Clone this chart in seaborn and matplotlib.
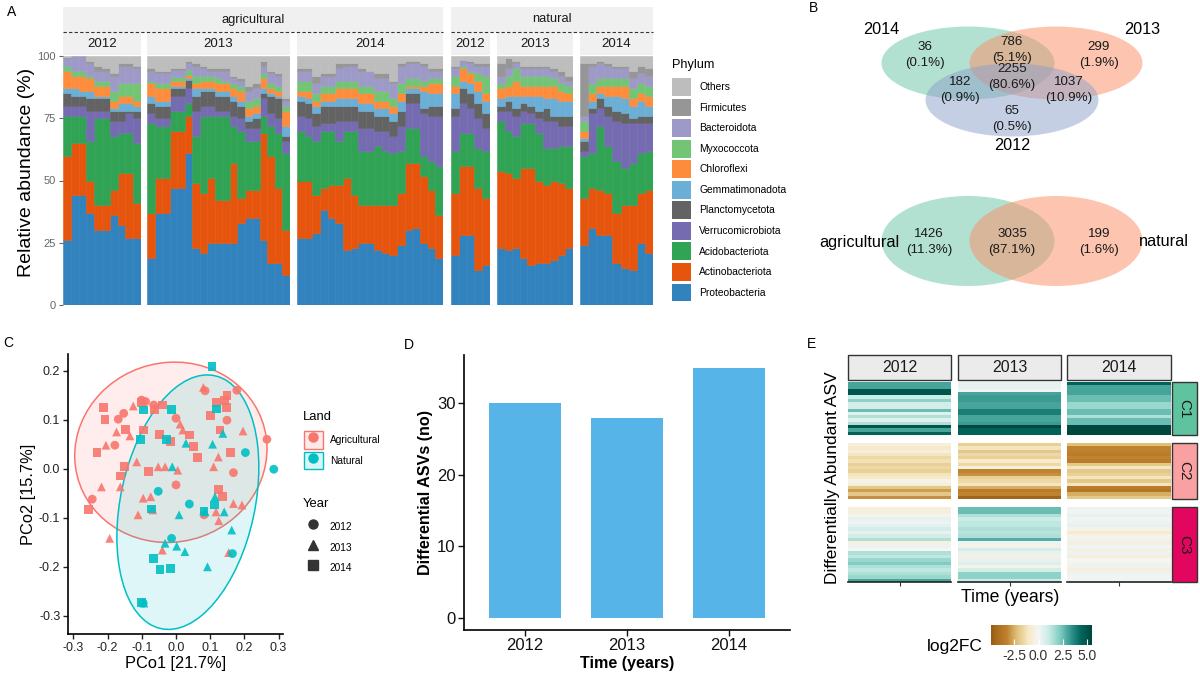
import numpy as np
import pandas as pd
import seaborn as sns
import matplotlib.pyplot as plt
from matplotlib.patches import Ellipse, Patch, Rectangle
from matplotlib.lines import Line2D
from matplotlib.legend_handler import HandlerTuple
from matplotlib.colors import LinearSegmentedColormap, to_rgba
from matplotlib.ticker import FormatStrFormatter

plt.rcParams["font.family"] = ["Liberation Sans", "DejaVu Sans"]
plt.rcParams["axes.unicode_minus"] = False

# ---------------- A: relative abundance per sample ----------------
facet_land = ["agricultural", "agricultural", "agricultural", "natural", "natural", "natural"]
facet_year = ["2012", "2013", "2014", "2012", "2013", "2014"]
facet_sizes = [10, 19, 19, 5, 10, 9]

proteobacteria = [26, 44, 44, 37, 30, 30, 36, 32, 27, 27,
                  19, 37, 37, 47, 47, 61, 23, 21, 25, 25, 25, 25, 33, 35, 35, 26, 17, 17, 12,
                  27, 27, 29, 38, 35, 33, 22, 23, 25, 25, 22, 21, 20, 24, 30, 31, 25, 23, 19,
                  20, 28, 28, 14, 16,
                  23, 22, 23, 19, 16, 17, 17, 18, 20, 23,
                  24, 31, 28, 28, 17, 15, 14, 25, 21]
actinobacteriota = [34, 21, 21, 13, 10, 10, 10, 21, 26, 14,
                    18, 14, 14, 23, 23, 15, 26, 24, 26, 17, 17, 32, 10, 11, 11, 43, 43, 30, 18,
                    23, 23, 15, 9, 13, 15, 29, 21, 15, 15, 18, 19, 20, 21, 27, 26, 27, 23, 17,
                    25, 28, 28, 33, 27,
                    31, 31, 28, 36, 39, 33, 31, 32, 29, 24,
                    19, 16, 18, 17, 20, 25, 26, 20, 25]
acidobacteriota = [16, 11, 11, 16, 35, 35, 22, 16, 16, 24,
                   36, 21, 21, 8, 8, 5, 19, 31, 25, 34, 34, 15, 27, 20, 20, 7, 12, 22, 31,
                   20, 18, 22, 23, 22, 18, 19, 26, 22, 22, 24, 22, 21, 17, 14, 14, 8, 12, 20,
                   17, 13, 13, 16, 19,
                   20, 17, 17, 18, 18, 19, 15, 13, 15, 17,
                   17, 14, 26, 19, 21, 15, 17, 16, 16]
verrucomicrobiota = [4, 4, 4, 12, 3, 3, 6, 5, 8, 10,
                     4, 3, 3, 6, 6, 6, 10, 4, 4, 2, 2, 4, 5, 5, 5, 7, 5, 6, 5,
                     6, 7, 6, 3, 3, 8, 4, 4, 9, 9, 6, 8, 7, 10, 10, 10, 17, 18, 20,
                     14, 12, 10, 12, 9,
                     4, 8, 8, 5, 4, 6, 11, 11, 8, 8,
                     2, 16, 7, 12, 16, 18, 16, 12, 11]
planctomycetota = [5, 4, 4, 5, 5, 5, 4, 4, 1, 3,
                   4, 5, 5, 3, 3, 3.5, 6, 6, 6, 6, 6, 6, 5, 3, 4, 2, 7, 8, 2,
                   6, 6, 5, 7, 7, 6, 6, 6, 7, 7, 6, 6, 6, 6, 4, 4, 2, 4, 4,
                   3, 6, 6, 6, 6,
                   2, 4, 3, 3, 3, 3, 5, 2, 4, 4,
                   4, 2, 4, 4, 4, 4, 2, 3, 3]
gemmatimonadota = [2, 3, 2, 3, 1, 1, 1, 3, 3, 2,
                   3, 2, 2, 1, 1, 0.5, 3, 1, 1, 2, 2, 2, 2, 2, 2, 2, 1, 1, 4,
                   2, 2, 3, 2, 2, 3, 3, 3, 3, 3, 3, 3, 3, 4, 2, 2, 7, 5, 5,
                   6, 3, 4, 5, 5,
                   3, 2, 5, 3, 4, 6, 4, 7, 6, 6,
                   1, 3, 2, 4, 6, 6, 5, 6, 4]
chloroflexi = [7, 5, 6, 5, 4, 4, 3, 3, 3, 2,
               5, 5, 5, 2, 2, 1.5, 2, 3, 3, 3, 3, 3, 4, 3, 3, 4, 2, 2, 6,
               2, 3, 2, 3, 3, 4, 4, 4, 4, 4, 3, 3, 3, 3, 1, 1, 2, 4, 4,
               3, 5, 4, 4, 3,
               4, 4, 6, 4, 4, 4, 5, 5, 4, 3,
               3, 3, 3, 4, 4, 5, 3, 3, 4]
myxococcota = [2, 2, 2, 1, 2, 2, 4, 5, 5, 7,
               1, 2, 2, 1.5, 1.5, 2, 3, 2, 2, 2, 1, 2, 2, 3, 3, 2, 2, 2, 2,
               4, 4, 3, 3, 3, 3, 3, 3, 3, 3, 4, 4, 3, 4, 3, 3, 2, 2, 2,
               4, 1, 1, 3, 7,
               2, 4, 5, 4, 4, 4, 4, 3, 3, 3,
               4, 4, 3, 3, 3, 3, 4, 4, 4]
bacteroidota = [3, 6, 6, 5, 4, 4, 6, 7, 7, 6,
                4, 4, 4, 3, 3, 2.5, 4, 3, 2, 3, 4, 2, 2, 4, 4, 3, 4, 4, 2,
                4, 4, 4, 4, 4, 5, 6, 6, 6, 6, 5, 5, 6, 7, 6, 6, 6, 3, 3,
                3, 2, 3, 3, 4,
                3, 3, 2, 3, 3, 3, 3, 3, 3, 2,
                2, 7, 6, 5, 4, 4, 4, 4, 4]
firmicutes = [0.5, 0, 0, 1, 2, 1, 1, 1, 1, 1,
              1, 1, 1, 0.5, 0.5, 1, 1, 1, 1, 1, 1, 1, 1, 2, 2, 2, 1, 1, 1,
              1, 1, 3, 1, 1, 2, 1, 1, 1, 0, 2, 2, 1, 1, 1, 1, 1, 1, 1,
              1, 0.5, 1, 1, 1,
              5, 4, 1, 1, 1, 1, 1, 1, 2, 2,
              21, 1, 1, 1, 1, 1, 3, 3, 3]

phyla = ["Proteobacteria", "Actinobacteriota", "Acidobacteriota", "Verrucomicrobiota",
         "Planctomycetota", "Gemmatimonadota", "Chloroflexi", "Myxococcota",
         "Bacteroidota", "Firmicutes", "Others"]
phylum_colors = ["#3182BD", "#E6550D", "#31A354", "#756BB1", "#636363", "#6BAED6",
                 "#FD8D3C", "#74C476", "#9E9AC8", "#969696", "#BDBDBD"]

# ---------------- B: shared ASVs ----------------
venn_years = ["2014", "2013", "2012"]
# 2014 only, 2014&2013, 2013 only, all, 2014&2012, 2013&2012, 2012 only
venn_year_counts = [36, 786, 299, 2255, 182, 1037, 65]
venn_year_pcts = ["0.1", "5.1", "1.9", "80.6", "0.9", "10.9", "0.5"]
venn_lands = ["agricultural", "natural"]
venn_land_counts = [1426, 3035, 199]
venn_land_pcts = ["11.3", "87.1", "1.6"]
venn_colors = ["#66C2A5", "#FC8D62", "#8DA0CB"]

# ---------------- C: PCoA ----------------
agri_2012_pc1 = [0.178, 0.266, 0.085, -0.089, -0.101, -0.153, -0.169, -0.179, -0.245, 0.000,
                 0.000, 0.149, 0.168, 0.082, -0.065]
agri_2012_pc2 = [0.160, 0.060, 0.159, 0.137, 0.140, 0.113, 0.101, 0.048, -0.062, 0.103,
                 -0.033, 0.099, -0.008, -0.094, 0.130]
agri_2013_pc1 = [0.080, -0.125, -0.174, -0.135, -0.205, -0.115, -0.218, -0.163, -0.052, -0.032,
                 0.005, 0.012, 0.020, -0.096, -0.074, -0.068, -0.111, -0.194, -0.040, 0.110,
                 0.124, 0.117, 0.125, 0.168, 0.193, 0.196, 0.154]
agri_2013_pc2 = [0.166, 0.128, 0.075, 0.067, 0.048, 0.014, -0.037, -0.037, 0.004, 0.004,
                 -0.003, 0.091, 0.079, -0.060, -0.057, -0.084, -0.094, -0.142, -0.166, 0.004,
                 0.024, -0.088, -0.106, -0.071, -0.074, 0.077, -0.171]
agri_2014_pc1 = [-0.211, -0.208, -0.231, -0.257, -0.147, -0.150, -0.163, -0.094, -0.081, -0.064,
                 -0.039, -0.049, -0.015, 0.039, 0.051, 0.063, 0.102, 0.117, 0.141, 0.147,
                 0.149, 0.159, 0.124, 0.137, 0.129, -0.102]
agri_2014_pc2 = [0.125, 0.101, 0.033, -0.083, 0.080, 0.005, -0.015, 0.079, -0.006, 0.121,
                 0.130, 0.070, 0.055, 0.069, 0.045, 0.023, 0.109, 0.135, 0.139, 0.125,
                 0.150, 0.033, -0.042, -0.057, 0.079, 0.135]
nat_2012_pc1 = [0.203, 0.286, -0.052, 0.039, -0.013, 0.165, -0.096]
nat_2012_pc2 = [0.033, -0.001, -0.046, -0.072, -0.142, -0.173, -0.274]
nat_2013_pc1 = [0.137, 0.107, 0.029, -0.011, 0.009, -0.032, 0.002, 0.026, 0.092, 0.114,
                0.141, 0.163, 0.085, -0.094]
nat_2013_pc2 = [0.072, 0.050, 0.052, 0.004, -0.094, -0.152, -0.158, -0.169, -0.200, -0.057,
                -0.088, -0.125, -0.088, -0.274]
nat_2014_pc1 = [0.105, -0.096, -0.013, 0.119, -0.104, -0.027, -0.071, 0.082, 0.113, -0.065,
                -0.047, -0.016, -0.102]
nat_2014_pc2 = [0.208, 0.120, 0.121, 0.122, 0.060, 0.060, -0.082, -0.086, -0.074, -0.183,
                -0.205, -0.204, -0.273]
land_colors = {"Agricultural": "#F8766D", "Natural": "#00BFC4"}
year_markers = {"2012": "o", "2013": "^", "2014": "s"}

# ---------------- D: differential ASVs ----------------
d_years = ["2012", "2013", "2014"]
d_counts = [30, 28, 35]

# ---------------- E: log2 fold change heatmap ----------------
e_years = ["2012", "2013", "2014"]
clusters = ["C1", "C2", "C3"]
cluster_colors = ["#5FC3A0", "#F9A0A2", "#E3065E"]
c1_2012 = [3.0, 3.0, 5.0, 5.0, 1.0, 2.0, 0.8, 0.8, 2.5, 0.5, 1.5, 0.5, 1.5, 5.0, 3.0, 4.5]
c1_2013 = [0.3, 0.3, 0.1, 3.0, 3.2, 3.2, 3.0, 3.0, 3.8, 3.8, 3.0, 3.0, 3.2, 5.5, 4.5, 4.5]
c1_2014 = [4.5, 3.0, 3.0, 3.0, 2.5, 2.5, 1.8, 1.8, 2.5, 2.5, 1.5, 2.5, 2.5, 5.5, 5.5, 5.5]
c2_2012 = [-0.5, -1.0, -0.5, -1.2, -1.5, -1.3, -1.8, -1.5, -1.8, -1.2, -1.0, -0.3, -0.6,
           -2.0, -2.8, -2.0, -3.0]
c2_2013 = [-1.8, -1.2, -2.0, -1.5, -1.8, -1.0, -1.5, -0.5, -3.2, -3.0, -1.8, -1.5, -1.2,
           -2.5, -3.5, -3.2, -4.5]
c2_2014 = [-2.2, -3.2, -3.3, -3.5, -3.2, -3.5, -2.0, -1.2, -2.0, -1.8, -1.2, -2.0, -1.2,
           -3.5, -3.8, -2.5, -2.0]
c3_2012 = [-0.5, -0.5, -0.2, 0.3, 0.2, 0.4, 0.8, 0.3, 0.8, 1.5, -0.4, 0.2, 0.0, 1.5, 1.2,
           1.8, 2.2, 1.5, 1.2, 1.5, 1.8, 3.0]
c3_2013 = [2.5, 2.5, 1.5, 1.0, 1.2, 1.2, 1.5, 1.3, 1.5, 2.8, 0.2, -0.3, 0.8, 0.3, -0.4,
           0.3, 0.6, -0.3, 0.8, 2.0, 2.0, 1.0]
c3_2014 = [0.2, 0.1, 0.3, 0.1, 0.2, 0.3, -0.3, -0.8, -0.3, 0.2, -0.5, 0.1, -0.4, 0.2, -0.6,
           0.0, -0.3, 0.2, -0.5, 0.2, 0.1, 0.1]

W, H = 1200, 675


def box(x0, y0, x1, y1):
    return [x0 / W, 1 - y1 / H, (x1 - x0) / W, (y1 - y0) / H]


fig = plt.figure(figsize=(12, 6.75), dpi=100)
ov = fig.add_axes([0, 0, 1, 1])
ov.set_xlim(0, W)
ov.set_ylim(H, 0)
ov.axis("off")

for letter, (lx, ly) in zip("ABCDE", [(12, 12), (814, 8), (8, 343), (409, 345), (812, 344)]):
    ov.text(lx, ly, letter, fontsize=10, ha="center", va="center")

# ---------------- panel A ----------------
abund = pd.DataFrame(dict(zip(phyla[:-1], [proteobacteria, actinobacteriota, acidobacteriota,
                                            verrucomicrobiota, planctomycetota, gemmatimonadota,
                                            chloroflexi, myxococcota, bacteroidota, firmicutes])))
abund["Others"] = 100 - abund.sum(axis=1)
abund["facet"] = np.repeat(np.arange(len(facet_sizes)), facet_sizes)

facet_px = [(63, 141), (147, 290), (297, 443), (451, 490), (497, 573), (580, 653)]
for i, (x0, x1) in enumerate(facet_px):
    ax = fig.add_axes(box(x0, 56, x1, 305))
    sub = abund[abund["facet"] == i]
    xs = np.arange(len(sub))
    bottom = np.zeros(len(sub))
    for ph, col in zip(phyla, phylum_colors):
        ax.bar(xs, sub[ph].values, bottom=bottom, width=1.0, color=col, edgecolor=col, linewidth=0.4)
        bottom += sub[ph].values
    ax.set_xlim(-0.5, len(sub) - 0.5)
    ax.set_ylim(0, 100)
    ax.set_xticks([])
    for s in ax.spines.values():
        s.set_visible(False)
    if i == 0:
        ax.set_yticks([0, 25, 50, 75, 100])
        ax.tick_params(axis="y", labelsize=8, colors="#666666", length=3, pad=2)
    else:
        ax.set_yticks([])
    ov.add_patch(Rectangle((x0, 32), x1 - x0, 23, facecolor="#F0F0F0", edgecolor="none"))
    ov.text((x0 + x1) / 2, 44, facet_year[i], fontsize=9.5, color="#1A1A1A", ha="center", va="center")

for name, (gx0, gx1) in zip(["agricultural", "natural"], [(63, 443), (451, 653)]):
    ov.add_patch(Rectangle((gx0, 7), gx1 - gx0, 24.5, facecolor="#F0F0F0", edgecolor="none"))
    ov.plot([gx0, gx1], [31.5, 31.5], color="#333333", lw=0.8, ls=(0, (3, 2)))
    ov.text((gx0 + gx1) / 2, 19.5, name, fontsize=9.3, color="#1A1A1A", ha="center", va="center")

ov.text(27, 172, "Relative abundance (%)", rotation=90, fontsize=14, ha="center", va="center")

ov.text(672, 65, "Phylum", fontsize=9.1, ha="left", va="center")
fig.legend(handles=[Patch(facecolor=c, edgecolor="none") for c in phylum_colors[::-1]],
           labels=phyla[::-1], loc="upper left", bbox_to_anchor=(672 / W, 1 - 78 / H),
           frameon=False, fontsize=7.4, handlelength=1.85, handleheight=2.3, labelspacing=0.26,
           handletextpad=0.8, borderaxespad=0, borderpad=0)

# ---------------- panel B ----------------
for (cx, cy), col in zip([(968, 63), (1056, 63), (1012, 100)], venn_colors):
    ov.add_patch(Ellipse((cx, cy), 173, 73, facecolor=col, alpha=0.5, edgecolor="none"))
for name, (tx, ty) in zip(venn_years, [(881, 29), (1142, 29), (1012, 145)]):
    ov.text(tx, ty, name, fontsize=11.7, ha="center", va="center")
year_spots = [(925, 55), (1012, 50), (1099, 55), (1012, 77), (960, 90), (1069, 90), (1012, 119)]
for (tx, ty), n, p in zip(year_spots, venn_year_counts, venn_year_pcts):
    ov.text(tx, ty, f"{n}\n({p}%)", fontsize=9.6, ha="center", va="center", linespacing=1.45,
            color="#1A1A1A")

for (cx, cy), col in zip([(968, 241), (1056, 241)], venn_colors[:2]):
    ov.add_patch(Ellipse((cx, cy), 173, 90, facecolor=col, alpha=0.5, edgecolor="none"))
ov.text(900, 242, venn_lands[0], fontsize=11.7, ha="right", va="center")
ov.text(1139, 242, venn_lands[1], fontsize=11.7, ha="left", va="center")
for (tx, ty), n, p in zip([(929, 242), (1012, 242), (1099, 242)], venn_land_counts, venn_land_pcts):
    ov.text(tx, ty, f"{n}\n({p}%)", fontsize=9.6, ha="center", va="center", linespacing=1.45,
            color="#1A1A1A")

# ---------------- panel C ----------------
groups = [("Agricultural", "2012", agri_2012_pc1, agri_2012_pc2),
          ("Agricultural", "2013", agri_2013_pc1, agri_2013_pc2),
          ("Agricultural", "2014", agri_2014_pc1, agri_2014_pc2),
          ("Natural", "2012", nat_2012_pc1, nat_2012_pc2),
          ("Natural", "2013", nat_2013_pc1, nat_2013_pc2),
          ("Natural", "2014", nat_2014_pc1, nat_2014_pc2)]
pcoa = pd.concat([pd.DataFrame({"PCo1": xs, "PCo2": ys, "Land": land, "Year": yr})
                  for land, yr, xs, ys in groups], ignore_index=True)

ax_c = fig.add_axes(box(68, 354, 283, 634))
for land, col in land_colors.items():
    pts = pcoa.loc[pcoa["Land"] == land, ["PCo1", "PCo2"]].values
    mu = pts.mean(axis=0)
    vals, vecs = np.linalg.eigh(np.cov(pts, rowvar=False))
    order = vals.argsort()[::-1]
    vals, vecs = vals[order], vecs[:, order]
    angle = np.degrees(np.arctan2(vecs[1, 0], vecs[0, 0]))
    ax_c.add_patch(Ellipse(mu, 2 * 2.05 * np.sqrt(vals[0]), 2 * 2.1 * np.sqrt(vals[1]), angle=angle,
                           facecolor=to_rgba(col, 0.13), edgecolor=col, lw=1.1, zorder=1))
sns.scatterplot(data=pcoa, x="PCo1", y="PCo2", hue="Land", style="Year", palette=land_colors,
                markers=year_markers, s=40, linewidth=0, alpha=0.9, legend=False, ax=ax_c, zorder=3)
ax_c.set_xlim(-0.316, 0.313)
ax_c.set_ylim(-0.337, 0.234)
ax_c.set_xticks([-0.3, -0.2, -0.1, 0.0, 0.1, 0.2, 0.3])
ax_c.set_yticks([-0.3, -0.2, -0.1, 0.0, 0.1, 0.2])
ax_c.xaxis.set_major_formatter(FormatStrFormatter("%.1f"))
ax_c.yaxis.set_major_formatter(FormatStrFormatter("%.1f"))
ax_c.tick_params(labelsize=9, length=3.5, width=1, colors="#222222", pad=2)
for s in ["top", "right"]:
    ax_c.spines[s].set_visible(False)
for s in ["left", "bottom"]:
    ax_c.spines[s].set_linewidth(1.2)
    ax_c.spines[s].set_color("black")
ax_c.set_xlabel("PCo1 [21.7%]", fontsize=11.8, labelpad=2)
ax_c.set_ylabel("PCo2 [15.7%]", fontsize=11.8, labelpad=2)

ov.text(303, 417, "Land", fontsize=9.4, ha="left", va="center")
land_handles = [(Rectangle((0, 0), 1, 1, facecolor=to_rgba(c, 0.15), edgecolor=c, lw=1),
                 Line2D([], [], marker="o", color=c, ls="", markersize=6.5))
                for c in land_colors.values()]
leg_land = ax_c.legend(handles=land_handles, labels=list(land_colors),
                       handler_map={tuple: HandlerTuple(ndivide=1)}, loc="upper left",
                       bbox_to_anchor=(304 / W, 1 - 431 / H), bbox_transform=fig.transFigure,
                       frameon=False, fontsize=7.3, handlelength=1.85, handleheight=2.3,
                       labelspacing=0.3, handletextpad=0.7, borderpad=0, borderaxespad=0)
ax_c.add_artist(leg_land)
ov.text(303, 504, "Year", fontsize=9.4, ha="left", va="center")
year_handles = [Line2D([], [], marker=m, color="#333333", ls="", markersize=6.5)
                for m in year_markers.values()]
ax_c.legend(handles=year_handles, labels=list(year_markers), loc="upper left",
            bbox_to_anchor=(304 / W, 1 - 518 / H), bbox_transform=fig.transFigure,
            frameon=False, fontsize=7.3, handlelength=1.85, handleheight=2.3, labelspacing=0.3,
            handletextpad=0.7, borderpad=0, borderaxespad=0)

# ---------------- panel D ----------------
ax_d = fig.add_axes(box(464, 355, 790, 630))
sns.barplot(x=d_years, y=d_counts, color="#56B4E9", saturation=1, width=0.71, ax=ax_d)
ax_d.set_xlim(-0.6, 2.6)
ax_d.set_ylim(-1.75, 36.75)
ax_d.set_yticks([0, 10, 20, 30])
ax_d.tick_params(labelsize=12, length=4, width=1, colors="#111111", pad=2)
for s in ["top", "right"]:
    ax_d.spines[s].set_visible(False)
for s in ["left", "bottom"]:
    ax_d.spines[s].set_linewidth(1.2)
    ax_d.spines[s].set_color("black")
ax_d.set_xlabel("Time (years)", fontsize=11.6, fontweight="bold", labelpad=2)
ax_d.set_ylabel("Differential ASVs (no)", fontsize=11.6, fontweight="bold", labelpad=3)

# ---------------- panel E ----------------
heat = {("C1", "2012"): c1_2012, ("C1", "2013"): c1_2013, ("C1", "2014"): c1_2014,
        ("C2", "2012"): c2_2012, ("C2", "2013"): c2_2013, ("C2", "2014"): c2_2014,
        ("C3", "2012"): c3_2012, ("C3", "2013"): c3_2013, ("C3", "2014"): c3_2014}
fc_cmap = LinearSegmentedColormap.from_list(
    "fc", ["#7f4a0c", "#a86a1c", "#bf812d", "#dfc27d", "#f6e8c3", "#f5f5f5",
           "#c7eae5", "#80cdc1", "#35978f", "#01665e", "#00473e"])
col_px = [(848, 951), (958, 1061), (1067, 1171)]
row_px = [(382, 435), (443, 499), (507, 582)]
cax = fig.add_axes(box(991, 625, 1092, 645))
for r, cl in enumerate(clusters):
    for c, yr in enumerate(e_years):
        ax = fig.add_axes(box(col_px[c][0], row_px[r][0], col_px[c][1], row_px[r][1]))
        first = (r == 0 and c == 0)
        sns.heatmap(np.array(heat[(cl, yr)]).reshape(-1, 1), ax=ax, cmap=fc_cmap, center=0,
                    vmin=-4.9, vmax=5.5, xticklabels=False, yticklabels=False, cbar=first,
                    cbar_ax=cax if first else None,
                    cbar_kws={"orientation": "horizontal", "ticks": [-2.5, 0, 2.5, 5]} if first else None)
        if r == len(clusters) - 1:
            ax.spines["bottom"].set_visible(True)
            ax.spines["bottom"].set_color("#222222")
            ax.spines["bottom"].set_linewidth(1.2)
            ax.set_xticks([0.5])
            ax.tick_params(axis="x", bottom=True, labelbottom=False, length=3, color="#333333")
for c, yr in enumerate(e_years):
    x0, x1 = col_px[c]
    ov.add_patch(Rectangle((x0, 355), x1 - x0, 25, facecolor="#EBEBEB", edgecolor="#333333", lw=1))
    ov.text((x0 + x1) / 2, 367.5, yr, fontsize=11.4, ha="center", va="center", color="#1A1A1A")
for r, cl in enumerate(clusters):
    y0, y1 = row_px[r]
    ov.add_patch(Rectangle((1172, y0), 25, y1 - y0, facecolor=cluster_colors[r],
                           edgecolor="#333333", lw=1))
    ov.text(1184.5, (y0 + y1) / 2, cl, rotation=270, fontsize=11, ha="center", va="center",
            color="#1A1A1A")
ov.text(832, 478, "Differentially Abundant ASV", rotation=90, fontsize=12.5, ha="center", va="center")
ov.text(1010, 597, "Time (years)", fontsize=12.7, ha="center", va="center")
ov.text(983, 646, "log2FC", fontsize=12.5, ha="right", va="center")
cax.xaxis.set_major_formatter(FormatStrFormatter("%.1f"))
cax.tick_params(axis="x", direction="in", color="white", length=4, labelsize=10, pad=3,
                labelcolor="#333333")

fig.savefig("out.png", dpi=100)
